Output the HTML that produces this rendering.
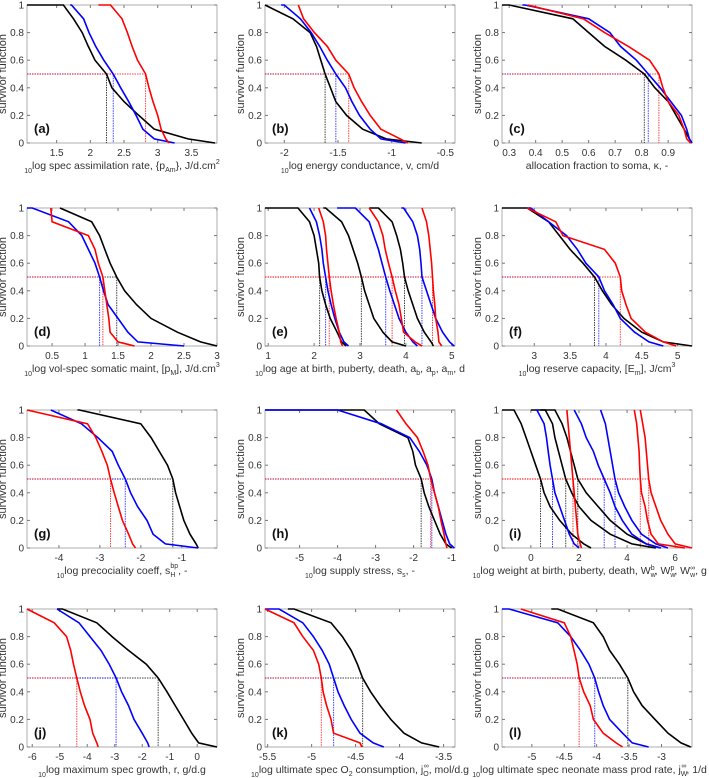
<!DOCTYPE html>
<html><head><meta charset="utf-8"><style>
body{margin:0;background:#fff;}
svg{display:block;font-family:"Liberation Sans",sans-serif;}
</style></head><body>
<svg id="fig" width="709" height="778" viewBox="0 0 709 778" xmlns="http://www.w3.org/2000/svg"></svg>
<script>
const LEVELS=[1,1,.9,.8,.7,.6,.5,.4,.3,.2,.1,.03,0];
const YTICKS=[0,0.2,0.4,0.6,0.8,1];
const YTICK_LABELS=["0","0.2","0.4","0.6","0.8","1"];
// panel a
const A_BLACK=[1.06,1.6,1.75,1.88,1.97,2.07,2.24,2.32,2.5,2.72,2.95,3.45,3.85];
const A_BLUE=[1.7,1.72,1.9,1.98,2.08,2.2,2.34,2.45,2.57,2.68,2.78,2.95,3.25];
const A_RED=[2.12,2.3,2.47,2.55,2.62,2.7,2.82,2.87,2.93,3.0,3.05,3.12,3.17];
const A_TICKS=[1.5,2,2.5,3,3.5];
// panel b
const B_BLACK=[-2.18,-2.18,-1.92,-1.76,-1.7,-1.66,-1.62,-1.57,-1.52,-1.42,-1.27,-1.05,-0.72];
const B_BLUE=[-2.03,-2.0,-1.85,-1.75,-1.67,-1.6,-1.52,-1.43,-1.37,-1.3,-1.2,-1.1,-0.87];
const B_RED=[-1.87,-1.87,-1.82,-1.72,-1.6,-1.52,-1.4,-1.35,-1.28,-1.2,-1.1,-0.92,-0.85];
const B_TICKS=[-2,-1.5,-1,-0.5];
// panel c
const C_BLACK=[0.273,0.3,0.54,0.6,0.66,0.74,0.81,0.85,0.9,0.93,0.96,0.98,0.99];
const C_BLUE=[0.35,0.36,0.6,0.68,0.72,0.78,0.825,0.87,0.91,0.95,0.97,0.98,0.99];
const C_RED=[0.37,0.37,0.58,0.66,0.75,0.83,0.865,0.88,0.9,0.94,0.96,0.97,0.985];
const C_TICKS=[0.3,0.4,0.5,0.6,0.7,0.8,0.9];
// panel d
const D_BLACK=[0.62,0.62,1.1,1.22,1.3,1.38,1.48,1.6,1.78,2.0,2.4,2.75,3.0];
const D_BLUE=[0.12,0.2,0.75,0.95,1.05,1.15,1.22,1.28,1.35,1.5,1.65,1.8,2.5];
const D_RED=[0.48,0.48,0.5,1.05,1.15,1.2,1.27,1.3,1.33,1.36,1.38,1.5,1.75];
const D_TICKS=[0.5,1,1.5,2,2.5,3];
// panel e
const E_BLACK_B=[0.93,1.65,1.9,2.0,2.05,2.1,2.12,2.17,2.25,2.35,2.5,2.6,2.7];
const E_BLUE_B=[1.9,1.9,2.05,2.12,2.17,2.2,2.25,2.3,2.37,2.45,2.55,2.65,2.75];
const E_RED_B=[2.1,2.1,2.2,2.25,2.27,2.3,2.33,2.37,2.42,2.48,2.55,2.58,2.62];
const E_BLACK_P=[2.2,2.25,2.6,2.75,2.85,2.95,3.03,3.1,3.2,3.3,3.5,3.7,4.0];
const E_BLUE_P=[2.5,2.9,3.2,3.3,3.4,3.48,3.56,3.65,3.75,3.85,4.0,4.15,4.25];
const E_RED_P=[3.2,3.2,3.4,3.5,3.55,3.62,3.7,3.77,3.85,3.9,3.95,4.2,4.35];
const E_BLACK_M=[3.2,3.4,3.7,3.8,3.88,3.93,3.97,4.05,4.15,4.25,4.4,4.55,4.6];
const E_BLUE_M=[3.9,3.95,4.15,4.25,4.3,4.33,4.35,4.45,4.55,4.65,4.8,4.95,5.05];
const E_RED_M=[4.35,4.35,4.45,4.5,4.53,4.56,4.58,4.6,4.63,4.65,4.7,4.72,4.78];
const E_TICKS=[1,2,3,4,5];
// panel f
const F_BLACK=[2.55,2.9,3.2,3.35,3.5,3.68,3.84,3.95,4.08,4.25,4.5,4.8,5.2];
const F_BLUE=[2.9,2.95,3.2,3.45,3.6,3.72,3.9,3.98,4.1,4.2,4.4,4.6,4.8];
const F_RED=[2.9,2.9,3.3,3.4,3.98,4.13,4.2,4.22,4.28,4.35,4.55,4.8,4.98];
const F_TICKS=[3,3.5,4,4.5,5];
// panel g
const G_BLACK=[-3.55,-3.5,-2.0,-1.75,-1.55,-1.35,-1.22,-1.15,-1.05,-0.95,-0.8,-0.65,-0.6];
const G_BLUE=[-4.2,-4.2,-3.45,-3.05,-2.7,-2.55,-2.38,-2.25,-2.08,-1.85,-1.7,-1.4,-0.6];
const G_RED=[-4.78,-4.78,-3.3,-3.1,-2.95,-2.82,-2.74,-2.65,-2.55,-2.45,-2.3,-2.2,-2.13];
const G_TICKS=[-4,-3,-2,-1];
// panel h
const H_BLACK=[-5.91,-3.3,-2.9,-2.15,-2.02,-1.95,-1.8,-1.72,-1.6,-1.45,-1.3,-1.15,-1.0];
const H_BLUE=[-5.91,-4.0,-2.85,-2.1,-1.85,-1.65,-1.52,-1.45,-1.35,-1.25,-1.15,-1.05,-0.93];
const H_RED=[-2.45,-2.45,-2.2,-1.9,-1.75,-1.62,-1.55,-1.45,-1.35,-1.28,-1.2,-1.15,-1.12];
const H_TICKS=[-5,-4,-3,-2,-1];
// panel i
const I_BLACK_B=[-1.2,-0.7,-0.4,-0.2,0.0,0.2,0.4,0.55,0.8,1.2,1.7,2.2,2.5];
const I_BLACK_P=[0.0,0.6,0.9,1.0,1.15,1.3,1.45,1.7,2.0,2.5,3.3,4.2,5.2];
const I_BLACK_M=[0.4,1.0,1.3,1.5,1.65,1.8,1.95,2.3,2.8,3.3,4.0,4.8,5.4];
const I_BLUE_B=[0.2,0.25,0.55,0.65,0.72,0.8,0.9,1.0,1.2,1.4,1.6,1.8,2.0];
const I_BLUE_P=[1.8,1.8,2.1,2.3,2.6,2.8,3.05,3.3,3.5,3.8,4.2,4.8,5.4];
const I_BLUE_M=[2.9,2.9,3.1,3.2,3.3,3.4,3.5,3.65,3.9,4.2,4.6,5.2,5.7];
const I_RED_B=[1.5,1.5,1.55,1.6,1.65,1.7,1.75,1.8,1.85,1.9,1.95,2.05,2.1];
const I_RED_P=[4.3,4.3,4.4,4.45,4.5,4.52,4.55,4.6,4.75,4.85,5.0,5.3,6.4];
const I_RED_M=[4.55,4.55,4.65,4.75,4.8,4.85,4.9,5.0,5.2,5.4,5.7,6.0,6.7];
const I_TICKS=[0,2,4,6];
// panel j
const J_BLACK=[-5.1,-4.9,-3.65,-3.1,-2.5,-1.85,-1.42,-1.1,-0.8,-0.5,-0.2,0.05,0.72];
const J_BLUE=[-5.1,-5.1,-4.3,-3.9,-3.5,-3.2,-2.95,-2.75,-2.5,-2.3,-2.0,-1.8,-1.75];
const J_RED=[-6.19,-6.19,-5.2,-4.75,-4.6,-4.5,-4.38,-4.25,-4.1,-3.9,-3.8,-3.65,-3.6];
const J_TICKS=[-6,-5,-4,-3,-2,-1,0];
// panel k
const K_BLACK=[-5.27,-5.2,-4.78,-4.65,-4.55,-4.48,-4.42,-4.33,-4.22,-4.1,-3.95,-3.75,-3.55];
const K_BLUE=[-5.53,-5.37,-5.1,-4.98,-4.88,-4.8,-4.75,-4.7,-4.63,-4.55,-4.45,-4.3,-4.18];
const K_RED=[-5.53,-5.53,-5.2,-5.1,-4.98,-4.92,-4.89,-4.87,-4.83,-4.78,-4.75,-4.45,-4.43];
const K_TICKS=[-5.5,-5,-4.5,-4,-3.5];
// panel l
const L_BLACK=[-4.7,-4.6,-4.05,-3.9,-3.8,-3.65,-3.52,-3.43,-3.3,-3.1,-2.9,-2.7,-2.55];
const L_BLUE=[-5.46,-5.35,-4.6,-4.4,-4.25,-4.12,-4.03,-3.97,-3.9,-3.8,-3.6,-3.45,-3.2];
const L_RED=[-5.17,-5.17,-4.5,-4.4,-4.35,-4.3,-4.27,-4.2,-4.1,-4.05,-3.9,-3.7,-3.6];
const L_TICKS=[-5,-4.5,-4,-3.5,-3];

const COLS=[27,265,502], ROWS=[5,208,410,609], PW=190, PH=138;
const SUB='<tspan font-size="7" dy="4">10</tspan><tspan dy="-4">';
const panels=[
 {id:'a',c:0,r:0,xr:[1.06,3.88],t:A_TICKS,k:[A_BLACK],b:[A_BLUE],rd:[A_RED],lab:SUB+'log spec assimilation rate, {p</tspan><tspan font-size="7" dy="3">Am</tspan><tspan dy="-3">}, J/d.cm</tspan><tspan font-size="7" dy="-5">2</tspan>'},
 {id:'b',c:1,r:0,xr:[-2.18,-0.41],t:B_TICKS,k:[B_BLACK],b:[B_BLUE],rd:[B_RED],lab:SUB+'log energy conductance, v, cm/d</tspan>'},
 {id:'c',c:2,r:0,xr:[0.273,0.99],t:C_TICKS,k:[C_BLACK],b:[C_BLUE],rd:[C_RED],lab:'<tspan>allocation fraction to soma, κ, -</tspan>'},
 {id:'d',c:0,r:1,xr:[0.12,3.0],t:D_TICKS,k:[D_BLACK],b:[D_BLUE],rd:[D_RED],lab:SUB+'log vol-spec somatic maint, [p</tspan><tspan font-size="7" dy="3">M</tspan><tspan dy="-3">], J/d.cm</tspan><tspan font-size="7" dy="-5">3</tspan>'},
 {id:'e',c:1,r:1,xr:[0.93,5.07],t:E_TICKS,k:[E_BLACK_B,E_BLACK_P,E_BLACK_M],b:[E_BLUE_B,E_BLUE_P,E_BLUE_M],rd:[E_RED_B,E_RED_P,E_RED_M],lab:SUB+'log age at birth, puberty, death, a</tspan><tspan font-size="7" dy="3">b</tspan><tspan dy="-3">, a</tspan><tspan font-size="7" dy="3">p</tspan><tspan dy="-3">, a</tspan><tspan font-size="7" dy="3">m</tspan><tspan dy="-3">, d</tspan>'},
 {id:'f',c:2,r:1,xr:[2.55,5.2],t:F_TICKS,k:[F_BLACK],b:[F_BLUE],rd:[F_RED],lab:SUB+'log reserve capacity, [E</tspan><tspan font-size="7" dy="3">m</tspan><tspan dy="-3">], J/cm</tspan><tspan font-size="7" dy="-5">3</tspan>'},
 {id:'g',c:0,r:2,xr:[-4.78,-0.14],t:G_TICKS,k:[G_BLACK],b:[G_BLUE],rd:[G_RED],lab:SUB+'log precociality coeff, s</tspan><tspan font-size="7" dy="3">H</tspan><tspan font-size="7" dy="-9" dx="-5">bp</tspan><tspan dy="6">, -</tspan>'},
 {id:'h',c:1,r:2,xr:[-5.91,-0.91],t:H_TICKS,k:[H_BLACK],b:[H_BLUE],rd:[H_RED],lab:SUB+'log supply stress, s</tspan><tspan font-size="7" dy="3">s</tspan><tspan dy="-3">, -</tspan>'},
 {id:'i',c:2,r:2,xr:[-1.2,6.7],t:I_TICKS,k:[I_BLACK_B,I_BLACK_P,I_BLACK_M],b:[I_BLUE_B,I_BLUE_P,I_BLUE_M],rd:[I_RED_B,I_RED_P,I_RED_M],lab:SUB+'log weight at birth, puberty, death, W</tspan><tspan font-size="7" dy="3">w</tspan><tspan font-size="7" dy="-7" dx="-5">b</tspan><tspan dy="4">, W</tspan><tspan font-size="7" dy="3">w</tspan><tspan font-size="7" dy="-7" dx="-5">p</tspan><tspan dy="4">, W</tspan><tspan font-size="7" dy="3">w</tspan><tspan font-size="7" dy="-7" dx="-5">∞</tspan><tspan dy="4">, g</tspan>'},
 {id:'j',c:0,r:3,xr:[-6.19,0.72],t:J_TICKS,k:[J_BLACK],b:[J_BLUE],rd:[J_RED],lab:SUB+'log maximum spec growth, r, g/d.g</tspan>'},
 {id:'k',c:1,r:3,xr:[-5.53,-3.37],t:K_TICKS,k:[K_BLACK],b:[K_BLUE],rd:[K_RED],lab:SUB+'log ultimate spec O</tspan><tspan font-size="7" dy="3">2</tspan><tspan dy="-3"> consumption, j</tspan><tspan font-size="7" dy="3">O</tspan><tspan font-size="7" dy="-8" dx="-5">∞</tspan><tspan dy="5">, mol/d.g</tspan>'},
 {id:'l',c:2,r:3,xr:[-5.46,-2.53],t:L_TICKS,k:[L_BLACK],b:[L_BLUE],rd:[L_RED],lab:SUB+'log ultimate spec neonate mass prod rate, j</tspan><tspan font-size="7" dy="3">W</tspan><tspan font-size="7" dy="-8" dx="-6">∞</tspan><tspan dy="5">, 1/d</tspan>'}
];
const svg=document.getElementById('fig');
const NS='http://www.w3.org/2000/svg';
function mk(tag,attrs,parent){const e=document.createElementNS(NS,tag);for(const k in attrs)e.setAttribute(k,attrs[k]);parent.appendChild(e);return e;}
panels.forEach(p=>{
  const L=COLS[p.c],T=ROWS[p.r];
  const g=mk('g',{},svg);
  
  
  const sx=v=>L+(v-p.xr[0])/(p.xr[1]-p.xr[0])*PW;
  const sy=v=>T+PH-v*PH;
  const box=mk('rect',{x:L,y:T,width:PW,height:PH,fill:'#fff',stroke:'#999','stroke-width':0.8},g);
  
  
  YTICKS.forEach((v,i)=>{
    mk('line',{x1:L,x2:L+3,y1:sy(v),y2:sy(v),stroke:'#777'},g);
    mk('line',{x1:L+PW,x2:L+PW-3,y1:sy(v),y2:sy(v),stroke:'#777'},g);
    const t=mk('text',{x:L-3,y:sy(v)+3.5,'text-anchor':'end','font-size':10,fill:'#333'},g);
    t.textContent=YTICK_LABELS[i];
    
    
  });
  p.t.forEach(v=>{
    mk('line',{x1:sx(v),x2:sx(v),y1:T+PH,y2:T+PH-3,stroke:'#777'},g);
    mk('line',{x1:sx(v),x2:sx(v),y1:T,y2:T+3,stroke:'#777'},g);
    const t=mk('text',{x:sx(v),y:T+PH+13,'text-anchor':'middle','font-size':10,fill:'#333'},g);
    t.textContent=String(v);
    
    
  });
  const yl=mk('text',{x:0,y:0,transform:`translate(${L-21},${T+PH/2}) rotate(-90)`,'text-anchor':'middle','font-size':11,fill:'#333'},g);
  yl.textContent='survivor function';
  
  
  const xl=mk('text',{x:L+PW/2,y:T+PH+26,'text-anchor':'middle','font-size':10.5,fill:'#333'},g);
  xl.innerHTML=p.lab;
  
  
  try{
    const bb=xl.getBBox();
    if(bb.x+bb.width>707){xl.setAttribute('x',L+PW/2-(bb.x+bb.width-707));}
  }catch(e){}
  const groups=[[p.k,'#000','black'],[p.b,'#00f','blue'],[p.rd,'#f00','red']];
  groups.forEach(([arr,col,nm])=>arr.forEach(xs=>{
    const m=sx(xs[6]);
    const med=mk('path',{d:`M${L},${sy(0.5)}H${m}V${sy(0)}`,fill:'none',stroke:col,'stroke-width':1,'stroke-dasharray':'1.5,1',opacity:0.75},g);
    
    
  }));
  groups.forEach(([arr,col,nm])=>arr.forEach(xs=>{
    let d='';
    xs.forEach((x,i)=>{d+=(i?'L':'M')+sx(x).toFixed(1)+','+sy(LEVELS[i]).toFixed(1);});
    const c=mk('path',{d:d,fill:'none',stroke:col,'stroke-width':1.6},g);
    
    
  }));
  const lt=mk('text',{x:L+7,y:T+PH-10,'font-size':13,'font-weight':'bold',fill:'#111'},g);
  lt.textContent='('+p.id+')';
  
  
});
</script>
</body></html>
